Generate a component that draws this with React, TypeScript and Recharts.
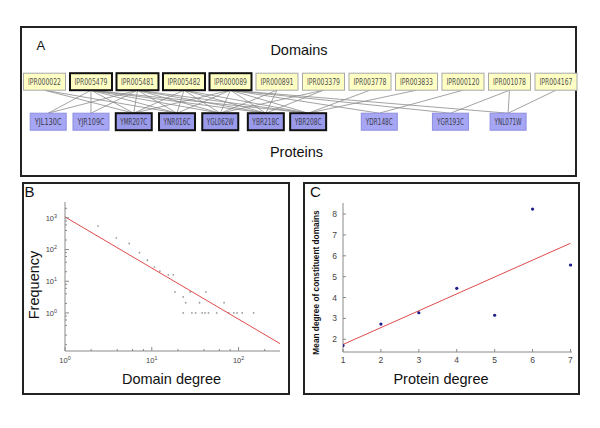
import React from 'react';
import { ScatterChart, Scatter, XAxis, YAxis, ReferenceLine } from 'recharts';

// ---------- Panel A: domain / protein network ----------
const domainNames = ['IPR000022', 'IPR005479', 'IPR005481', 'IPR005482', 'IPR000089', 'IPR000891', 'IPR003379', 'IPR003778', 'IPR003833', 'IPR000120', 'IPR001078', 'IPR004167'];
const domainSlots = [0, 1, 2, 3, 4, 5, 6, 7, 8, 9, 10, 11];
const domainHub = [false, true, true, true, true, false, false, false, false, false, false, false];

const proteinNames = ['YJL130C', 'YJR109C', 'YMR207C', 'YNR016C', 'YGL062W', 'YBR218C', 'YBR208C', 'YDR148C', 'YGR193C', 'YNL071W'];
const proteinSlots = [0.08, 1, 1.92, 2.85, 3.78, 4.76, 5.67, 7.2, 8.73, 9.97];
const proteinHub = [false, false, true, true, true, true, true, false, false, false];

const edgeDomain = [0, 0, 1, 1, 1, 1, 1, 1, 1, 2, 2, 2, 2, 2, 2, 2, 3, 3, 3, 3, 3, 4, 4, 4, 4, 4, 4, 4, 4, 5, 5, 6, 6, 7, 8, 9, 10, 10, 11];
const edgeProtein = [2, 3, 0, 1, 2, 3, 4, 5, 6, 0, 1, 2, 3, 4, 5, 6, 2, 3, 4, 5, 6, 2, 3, 4, 5, 6, 7, 8, 9, 4, 5, 4, 5, 6, 6, 7, 8, 9, 9];

// ---------- Panel B: domain degree distribution ----------
const domainDegree = [1, 2.4, 3.9, 5.5, 7.2, 8.9, 10.7, 12.4, 15.5, 17.7, 18.5, 23, 24.6, 27.7, 35.5, 42, 68, 23, 29, 32, 38, 41, 45, 56, 77, 88, 96, 110, 149];
const domainFreq = [1950, 550, 235, 155, 80, 46, 28, 21, 16, 16, 4.6, 3.2, 2.1, 4.6, 2.1, 4.6, 2.1, 1, 1, 1, 1, 1, 1, 1, 1, 1, 1, 1, 1];
const fitBDegree = [1, 300];
const fitBFreq = [1070, 0.108];
const bXTicks = [1, 2, 4, 6, 8, 10, 20, 40, 60, 80, 100, 200];
const bXLabels = [1, 10, 100];
const bYTicks = [0.1, 0.2, 0.4, 0.6, 0.8, 1, 2, 4, 6, 8, 10, 20, 40, 60, 80, 100, 200, 400, 600, 800, 1000, 2000];
const bYLabels = [1, 10, 100, 1000];

// ---------- Panel C: protein degree vs mean domain degree ----------
const proteinDegree = [1, 2, 3, 4, 5, 6, 7];
const meanDomainDegree = [1.7, 2.73, 3.27, 4.44, 3.15, 8.24, 5.56];
const fitCDegree = [1, 7];
const fitCMean = [1.75, 6.6];
const cXTicks = [1, 2, 3, 4, 5, 6, 7];
const cYTicks = [2, 3, 4, 5, 6, 7, 8];

// ---------- derived tables ----------
const domainNodes = domainNames.map((name, i) => ({ slot: domainSlots[i], row: 1, name, hub: domainHub[i] }));
const proteinNodes = proteinNames.map((name, i) => ({ slot: proteinSlots[i], row: 0, name, hub: proteinHub[i] }));
const bPoints = domainDegree.map((d, i) => ({ x: d, y: domainFreq[i] }));
const bFit = fitBDegree.map((d, i) => ({ x: d, y: fitBFreq[i] }));
const cPoints = proteinDegree.map((d, i) => ({ x: d, y: meanDomainDegree[i] }));
const cFit = fitCDegree.map((d, i) => ({ x: d, y: fitCMean[i] }));

const SANS = '"Liberation Sans", Arial, Helvetica, sans-serif';
const NARROW = '"Liberation Sans Narrow", "Arial Narrow", "DejaVu Sans Condensed", sans-serif';
const FRAME = '#8a8a8a';

const DomainNode = (props: any) => {
  const { cx, cy, payload } = props;
  const w = 42, h = 17;
  return (
    <g>
      <rect x={cx - w / 2} y={cy - h / 2} width={w} height={h} fill="#ffffc4"
        stroke={payload.hub ? '#111' : '#a8a8a8'} strokeWidth={payload.hub ? 2 : 1} />
      <text x={cx} y={cy + 3} textAnchor="middle" fontSize={8.5} fontFamily={NARROW} fill="#505050"
        textLength={33} lengthAdjust="spacingAndGlyphs">{payload.name}</text>
    </g>
  );
};

const ProteinNode = (props: any) => {
  const { cx, cy, payload } = props;
  const w = 36, h = 17;
  return (
    <g>
      <rect x={cx - w / 2} y={cy - h / 2} width={w} height={h} fill={payload.hub ? '#9a9aea' : '#a6a6f4'}
        stroke={payload.hub ? '#111' : '#8e8ee2'} strokeWidth={payload.hub ? 2 : 1} />
      <text x={cx} y={cy + 3} textAnchor="middle" fontSize={8.5} fontFamily={NARROW} fill="#3a3a4a"
        textLength={27} lengthAdjust="spacingAndGlyphs">{payload.name}</text>
    </g>
  );
};

const supDigits = (v: number) => String(Math.round(Math.log10(v)));

function makeTick(side: string, margin: number, majorLen: number, minorLen: number, labels: number[] | null, pow: boolean, fontSize: number, labelGap: number) {
  return (props: any) => {
    const { x, y, payload } = props;
    const v = payload.value as number;
    const major = labels ? labels.some((l) => Math.abs(l - v) < 1e-6 * Math.max(1, l)) : false;
    const len = major || !labels ? majorLen : minorLen;
    const showLabel = labels ? major : false;
    const label = pow ? (
      <>10<tspan dy={-3} fontSize={fontSize * 0.72}>{supDigits(v)}</tspan></>
    ) : String(v);
    if (side === 'bottom') {
      const ax = y - margin;
      return (
        <g>
          <line x1={x} y1={ax} x2={x} y2={ax - len} stroke={FRAME} strokeWidth={1} />
          {showLabel && <text x={x} y={ax + labelGap} textAnchor="middle" fontSize={fontSize} fontFamily={SANS} fill="#444">{label}</text>}
        </g>
      );
    }
    if (side === 'top') {
      const ax = y + margin;
      return <line x1={x} y1={ax} x2={x} y2={ax + len} stroke={FRAME} strokeWidth={1} />;
    }
    if (side === 'left') {
      const ax = x + margin;
      return (
        <g>
          <line x1={ax} y1={y} x2={ax + len} y2={y} stroke={FRAME} strokeWidth={1} />
          {showLabel && <text x={ax - labelGap} y={y + fontSize * 0.36} textAnchor="end" fontSize={fontSize} fontFamily={SANS} fill="#444">{label}</text>}
        </g>
      );
    }
    const ax = x - margin;
    return <line x1={ax} y1={y} x2={ax - len} y2={y} stroke={FRAME} strokeWidth={1} />;
  };
}

const box = (left: number, top: number, width: number, height: number): React.CSSProperties => ({
  position: 'absolute', left, top, width, height, border: '2px solid #222', boxSizing: 'border-box',
});

export default function App() {
  const bDomX: [number, number] = [1, 300];
  const bDomY: [number, number] = [Math.pow(10, -1.2), Math.pow(10, 3.5)];
  const cDomX: [number, number] = [1, 7.04];
  const cDomY: [number, number] = [1.39, 8.53];
  const M = 8;
  return (
    <div style={{ position: 'absolute', left: 0, top: 0, width: 600, height: 428, background: '#fff', overflow: 'hidden' }}>
      <div style={box(20, 26, 557, 151)} />
      <div style={box(22, 182, 268, 213)} />
      <div style={box(303, 182, 277, 213)} />

      {/* Panel A */}
      <div style={{ position: 'absolute', left: 21, top: 27 }}>
        <ScatterChart width={560} height={141} margin={{ top: 0, right: 0, bottom: 0, left: 0 }}>
          <XAxis type="number" dataKey="slot" hide domain={[-0.505, 11.5376]} allowDataOverflow />
          <YAxis type="number" dataKey="row" hide domain={[-1.1575, 2.3675]} allowDataOverflow />
          {edgeDomain.map((d, i) => (
            <ReferenceLine key={'e' + i}
              segment={[{ x: domainSlots[d], y: 0.7875 }, { x: proteinSlots[edgeProtein[i]], y: 0.2125 }]}
              stroke="#8c8c8c" strokeWidth={0.8} />
          ))}
          <Scatter data={domainNodes} shape={DomainNode} isAnimationActive={false} />
          <Scatter data={proteinNodes} shape={ProteinNode} isAnimationActive={false} />
        </ScatterChart>
      </div>

      {/* Panel B */}
      <div style={{ position: 'absolute', left: 23, top: 182 }}>
        <ScatterChart width={266} height={212} margin={{ top: 20, right: 9, bottom: 0, left: 0 }}>
          <XAxis xAxisId="b" type="number" dataKey="x" scale="log" domain={bDomX} allowDataOverflow ticks={bXTicks} interval={0}
            height={43} tickSize={0} tickLine={false} tickMargin={M} axisLine={{ stroke: FRAME }}
            tick={makeTick('bottom', M, 4, 2, bXLabels, true, 7.5, 12)} />
          <XAxis xAxisId="t" orientation="top" type="number" dataKey="x" scale="log" domain={bDomX} allowDataOverflow ticks={bXTicks} interval={0}
            height={0} tickSize={0} tickLine={false} tickMargin={M} axisLine={{ stroke: FRAME }}
            tick={makeTick('top', M, 4, 2, bXLabels, true, 7.5, 12)} />
          <YAxis yAxisId="l" type="number" dataKey="y" scale="log" domain={bDomY} allowDataOverflow ticks={bYTicks} interval={0}
            width={42} tickSize={0} tickLine={false} tickMargin={M} axisLine={{ stroke: FRAME }}
            tick={makeTick('left', M, 4, 2, bYLabels, true, 7.5, 8)} />
          <YAxis yAxisId="r" orientation="right" type="number" dataKey="y" scale="log" domain={bDomY} allowDataOverflow ticks={bYTicks} interval={0}
            width={0} tickSize={0} tickLine={false} tickMargin={M} axisLine={{ stroke: FRAME }}
            tick={makeTick('right', M, 4, 2, bYLabels, true, 7.5, 8)} />
          <Scatter xAxisId="b" yAxisId="l" data={bPoints} isAnimationActive={false}
            shape={(p: any) => <circle cx={p.cx} cy={p.cy} r={0.9} fill="#9c9c9c" />} />
          <Scatter xAxisId="b" yAxisId="l" data={bFit} isAnimationActive={false}
            line={{ stroke: '#e04a4a', strokeWidth: 1 }} shape={() => <g />} />
        </ScatterChart>
      </div>

      {/* Panel C */}
      <div style={{ position: 'absolute', left: 303, top: 182 }}>
        <ScatterChart width={276} height={212} margin={{ top: 21, right: 7, bottom: 0, left: 0 }}>
          <XAxis xAxisId="b" type="number" dataKey="x" domain={cDomX} allowDataOverflow ticks={cXTicks} interval={0}
            height={42} tickSize={0} tickLine={false} tickMargin={M} axisLine={{ stroke: FRAME }}
            tick={makeTick('bottom', M, 3, 3, cXTicks, false, 8.5, 10.5)} />
          <XAxis xAxisId="t" orientation="top" type="number" dataKey="x" domain={cDomX} allowDataOverflow ticks={cXTicks} interval={0}
            height={0} tickSize={0} tickLine={false} tickMargin={M} axisLine={{ stroke: FRAME }}
            tick={makeTick('top', M, 3, 3, cXTicks, false, 8.5, 10)} />
          <YAxis yAxisId="l" type="number" dataKey="y" domain={cDomY} allowDataOverflow ticks={cYTicks} interval={0}
            width={40} tickSize={0} tickLine={false} tickMargin={M} axisLine={{ stroke: FRAME }}
            tick={makeTick('left', M, 3, 3, cYTicks, false, 8.5, 6)} />
          <YAxis yAxisId="r" orientation="right" type="number" dataKey="y" domain={cDomY} allowDataOverflow ticks={cYTicks} interval={0}
            width={0} tickSize={0} tickLine={false} tickMargin={M} axisLine={{ stroke: FRAME }}
            tick={makeTick('right', M, 3, 3, cYTicks, false, 8.5, 6)} />
          <Scatter xAxisId="b" yAxisId="l" data={cFit} isAnimationActive={false}
            line={{ stroke: '#e04a4a', strokeWidth: 1 }} shape={() => <g />} />
          <Scatter xAxisId="b" yAxisId="l" data={cPoints} isAnimationActive={false}
            shape={(p: any) => <circle cx={p.cx} cy={p.cy} r={1.6} fill="#1c1c8c" />} />
        </ScatterChart>
      </div>

      {/* titles and labels */}
      <svg width={600} height={428} style={{ position: 'absolute', left: 0, top: 0, pointerEvents: 'none' }}>
        <g fontFamily={SANS} fill="#111">
          <text x={36.5} y={50} fontSize={13}>A</text>
          <text x={299} y={55} fontSize={14.5} textAnchor="middle">Domains</text>
          <text x={296.5} y={157} fontSize={14.5} textAnchor="middle">Proteins</text>
          <text x={24.5} y={197} fontSize={15}>B</text>
          <text x={310} y={197} fontSize={15}>C</text>
          <text x={171.5} y={384} fontSize={14.5} textAnchor="middle">Domain degree</text>
          <text transform="translate(38.5,285) rotate(-90)" fontSize={14.5} textAnchor="middle">Frequency</text>
          <text x={441} y={384} fontSize={14.5} textAnchor="middle">Protein degree</text>
          <text transform="translate(319,282.5) rotate(-90)" fontSize={8.3} fontWeight="bold" textAnchor="middle">Mean degree of constituent domains</text>
        </g>
      </svg>
    </div>
  );
}
